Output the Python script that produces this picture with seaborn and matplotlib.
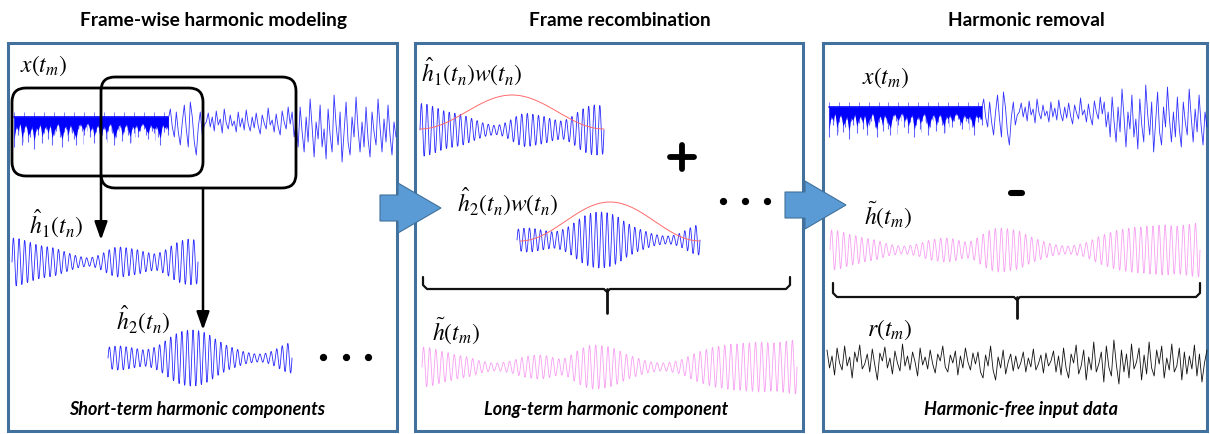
import numpy as np
import matplotlib
matplotlib.use("Agg")
import matplotlib.pyplot as plt
import seaborn as sns
from matplotlib.patches import FancyBboxPatch, Rectangle, Polygon

sns.set_theme(style="white")
plt.rcParams["font.family"] = ["Lato", "DejaVu Sans"]
plt.rcParams["mathtext.fontset"] = "stix"

# ---------------- data ----------------
titles = ["Frame-wise harmonic modeling", "Frame recombination", "Harmonic removal"]
captions = ["Short-term harmonic components", "Long-term harmonic component",
            "Harmonic-free input data"]
labels_p1 = [r"$x(t_m)$", r"$\hat{h}_1(t_n)$", r"$\hat{h}_2(t_n)$"]
labels_p2 = [r"$\hat{h}_1(t_n)w(t_n)$", r"$\hat{h}_2(t_n)w(t_n)$", r"$\tilde{h}(t_m)$"]
labels_p3 = [r"$x(t_m)$", r"$\tilde{h}(t_m)$", r"$r(t_m)$"]

# per-cycle amplitudes (px) of the short-term harmonic frames
h1_amp = [24, 23, 21, 19, 17, 16, 15, 14, 12, 10, 8, 6, 5, 4, 5, 7, 10,
          13, 15, 15, 14, 13, 12, 10, 9, 8, 10, 13, 17, 20, 22, 23, 22]
h2_amp = [11, 12, 12, 11, 10, 9, 8, 9, 11, 14, 18, 22, 25, 27, 28, 28, 27,
          25, 22, 18, 15, 12, 10, 8, 6, 5, 4, 4, 5, 7, 10, 13, 15]
# per-cycle amplitudes (px) of the long-term harmonic component
h_long_amp = [20, 19, 17, 15, 14, 12, 11, 10, 8, 6, 5, 4, 4, 5, 6, 8,
              10, 11, 12, 12, 11, 9, 8, 9, 13, 17, 20, 22, 22, 21, 20, 18,
              15, 12, 10, 8, 6, 5, 4, 4, 5, 6, 8, 11, 14, 16, 18, 20,
              21, 22, 23, 23, 24, 24, 25, 25, 24, 24, 25, 26, 27]
# input signal x(t_m): dense one-sided part (spike depth, px) then noisy part (offset, px)
x_dense_depth = [30, 12, 18, 8, 28, 15, 10, 25, 20, 12, 32, 14, 18, 9, 26, 16,
                 12, 22, 10, 28, 18, 14, 8, 20, 30, 15, 12, 24, 10, 16, 22, 28,
                 12, 9, 14, 18, 10, 8, 20, 12, 26, 15, 10, 30, 18, 12, 22, 14,
                 8, 16, 28, 20, 12, 10, 24, 15, 9, 18, 26, 12, 16, 10, 20, 14,
                 8, 12, 18, 22, 10, 14, 16, 12, 20, 28, 10, 15, 12, 18]
x_noise = [2, -8, 10, 20, -5, 15, 28, 5, -12, 12, 30, -15, 0, 25, 38, 10, -5, 18, 8,
           5, -4, 10, 0, 14, -6, 8, 2, 16, -8, 6, 12, -2, 9, 4, 15, -5, 10, 1, 13,
           -7, 7, 14, 0, 11, -4, 9, 17, -2, 6, 12, -9, 8, 3, 15, -3, 10, 18, -6, 5,
           12, -10, 7,
           -5, 20, 5, 30, -10, 15, 35, 0, 25, -18, 10, 40, 5, 22, -12, 30, 12, 42,
           -8, 18, 35, -22, 8, 28, -5, 45, 15, -15, 25, 38, 0, 20, -20, 12, 35, 5,
           30, -10, 22, 40, -5, 15, 28, -18, 10, 35, 2, 25, -12, 18, 38, 5, 20]
# residual r(t_m) (offset, px)
r_noise = [-10, 8, -4, 15, -12, 3, 10, -14, 6, -3, 18, -8, 2, -15, 9, 4, -6, 12,
           -11, 5, 20, -7, 1, -13, 8, -2, 14, -9, 3, 11, -16, 6, -4, 10, -8, 2,
           16, -12, 5, -3, 9, -10, 4, 13, -6, 1, -14, 7, 12, -5, 3, -9, 15, -4,
           8, -12, 2, 10, -7, 4,
           -8, 12, 18, -5, 6, -14, 10, 20, -3, 8, -10, 14, 2, -6, 11, -4, 9, 3,
           -8, 12, -2, 7, -11, 10, 4, -5, 13, -7, 6, 1,
           -9, 12, -4, 15, -12, 8, 18, -6, 3, -15, 14, 6, -10, 20, -3, 10, -18,
           12, 4, -8, 22, -14, 7, 16, -20, 5, 24, -10, 12, -6, 18, -16, 9, 2,
           -12, 20, -5, 14, -18, 8, 16, -10, 4, -14, 18, -2, 10, -16, 12, 6, -12,
           20, -8, 14, -4, 9, -15, 16, -6, 22, 3, -10]

# ---------------- colours ----------------
BORDER = "#41719C"
ARROW = "#5B9BD5"
BLUE = "#2a2aff"
PINK = "#F7A0F2"
RED = "#FF6A6A"

fig = plt.figure(figsize=(12.1, 4.34), dpi=100)
ax = fig.add_axes([0, 0, 1, 1])


def line(xs, ys, color, lw, alpha=1.0, z=3):
    sns.lineplot(x=np.asarray(xs, float), y=np.asarray(ys, float), ax=ax, color=color,
                 linewidth=lw, alpha=alpha, estimator=None, sort=False, zorder=z,
                 legend=False)


def harmonic(x0, x1, yc, amps, color, lw=0.6, scale=1.0):
    n = len(amps)
    t = np.linspace(0, n, n * 24 + 1)
    env = np.interp(t, np.arange(n) + 0.5, np.asarray(amps, float) * scale)
    line(x0 + (x1 - x0) * t / n, yc - env * np.sin(2 * np.pi * t), color, lw)


def window(x0, x1, ybase, height):
    t = np.linspace(0, 1, 200)
    line(x0 + (x1 - x0) * t, ybase - height * np.sin(np.pi * t) ** 2, RED, 0.7)


def draw_x(x0, x1, yb):
    xd = x0 + (x1 - x0) * 0.404
    d = np.asarray(x_dense_depth, float)
    xs = np.linspace(x0, xd, len(d))
    ax.fill_between(xs, yb, yb + d * 0.75, color="#0000ff", lw=0, zorder=3)
    ax.vlines(xs, yb, yb + d, color="#0000ff", lw=0.8, alpha=0.6, zorder=3)
    ax.vlines(xs[::5], yb - 5, yb, color="#0000ff", lw=0.6, alpha=0.6, zorder=3)
    ax.vlines(xs[::2] + 1, yb, yb + d[::-2][:len(xs[::2])] * 0.9, color="#0000ff",
              lw=0.5, alpha=0.35, zorder=3)
    ax.plot([x0, xd], [yb, yb], color="#0000ff", lw=1.2, zorder=3)
    xn = np.linspace(xd, x1, len(x_noise))
    line(xn, yb + np.asarray(x_noise, float), "#0000ff", 0.6, alpha=0.8)


def brace(x0, x1, ytop, yh, xc, ybot):
    line([x0, x0, x0 + 4, xc - 3, xc, xc + 3, x1 - 4, x1, x1],
         [ytop, yh - 4, yh, yh, yh + 3, yh, yh, yh - 4, ytop], "#111111", 1.6)
    line([xc, xc], [yh, ybot], "#111111", 2.0)


def block_arrow(xb, xh, xt, yc, bh, hh):
    pts = [(xb, yc - bh), (xh, yc - bh), (xh, yc - hh), (xt, yc), (xh, yc + hh),
           (xh, yc + bh), (xb, yc + bh)]
    ax.add_patch(Polygon(pts, closed=True, facecolor=ARROW, edgecolor=BORDER,
                         lw=0.8, zorder=6))


def dots(xs, y):
    ax.plot(xs, [y] * len(xs), "o", color="black", ms=4.2, zorder=4)


def mlabel(x, y, s):
    ax.text(x, y, s, fontsize=17, ha="left", va="center", color="black", zorder=5)


# ---------------- panels ----------------
for (x0, x1) in [(8, 397), (415, 803), (823, 1207)]:
    ax.add_patch(Rectangle((x0, 43), x1 - x0, 388, facecolor="white",
                           edgecolor=BORDER, lw=2.2, zorder=1))

for t, xc in zip(titles, [213, 620, 1026]):
    ax.text(xc, 26, t, ha="center", va="baseline", fontsize=13.8, fontweight="bold",
            color="black")
for c, xc in zip(captions, [197, 606, 1021]):
    ax.text(xc, 415, c, ha="center", va="baseline", fontsize=13, fontweight="bold",
            fontstyle="italic", color="black")

# ---- panel 1 ----
mlabel(20, 66, labels_p1[0])
draw_x(14, 396, 117)
ax.add_patch(FancyBboxPatch((12, 88), 191, 88, boxstyle="round,pad=0,rounding_size=14",
                            facecolor="none", edgecolor="black", lw=2.0, zorder=4))
ax.add_patch(FancyBboxPatch((101, 77), 195, 111, boxstyle="round,pad=0,rounding_size=14",
                            facecolor="none", edgecolor="black", lw=2.0, zorder=4))
arrowprops = dict(arrowstyle="-|>,head_length=0.9,head_width=0.32", lw=1.8,
                  color="black", shrinkA=0, shrinkB=0)
ax.annotate("", xy=(101, 240), xytext=(101, 176), arrowprops=arrowprops, zorder=4)
ax.annotate("", xy=(203, 330), xytext=(203, 188), arrowprops=arrowprops, zorder=4)
mlabel(29, 224, labels_p1[1])
harmonic(12, 198, 262, h1_amp, BLUE)
mlabel(116, 320, labels_p1[2])
harmonic(108, 292, 358, h2_amp, BLUE)
dots([323, 346, 368], 357)

# ---- panel 2 ----
mlabel(421, 72, labels_p2[0])
harmonic(420, 604, 130, h1_amp, BLUE, scale=1.1)
window(420, 604, 129, 34)
line([670, 694], [157, 157], "black", 4.2)
line([682, 682], [145, 169], "black", 4.2)
mlabel(457, 202, labels_p2[1])
harmonic(517, 700, 240, h2_amp, BLUE)
window(520, 700, 241, 39)
dots([723, 745, 767], 201)
brace(423, 790, 277, 289, 607, 313)
mlabel(432, 331, labels_p2[2])
harmonic(422, 797, 367, h_long_amp, PINK)

# ---- panel 3 ----
mlabel(862, 78, labels_p3[0])
draw_x(829, 1207, 107)
line([1011, 1022], [193, 193], "black", 4.4)
mlabel(864, 215, labels_p3[1])
harmonic(830, 1200, 250, h_long_amp, PINK)
brace(833, 1200, 283, 297, 1017, 318)
mlabel(867, 330, labels_p3[2])
xr = np.linspace(827, 1207, len(r_noise))
line(xr, 360 + np.asarray(r_noise, float), "#111111", 0.6)

# ---- block arrows ----
block_arrow(380, 398, 441, 208, 13, 25)
block_arrow(785, 805, 846, 205, 13, 24)

ax.set_xlim(0, 1210)
ax.set_ylim(434, 0)
ax.axis("off")
fig.savefig("out.png", dpi=100, facecolor="white")
